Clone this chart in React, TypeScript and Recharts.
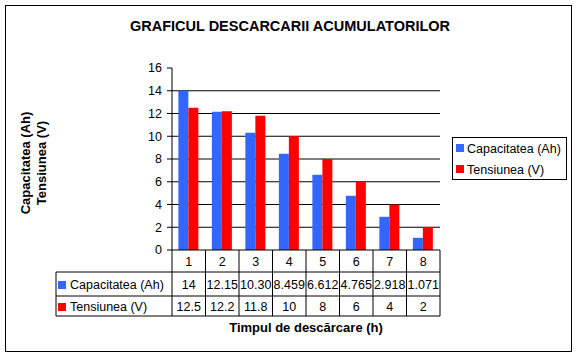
import { BarChart, Bar, XAxis, YAxis, CartesianGrid } from 'recharts';

const categories = ['1', '2', '3', '4', '5', '6', '7', '8'];
const capacitate = [14, 12.15, 10.3, 8.459, 6.612, 4.765, 2.918, 1.071];
const capacitateLabels = ['14', '12.15', '10.30', '8.459', '6.612', '4.765', '2.918', '1.071'];
const tensiune = [12.5, 12.2, 11.8, 10, 8, 6, 4, 2];
const tensiuneLabels = ['12.5', '12.2', '11.8', '10', '8', '6', '4', '2'];
const yTicks = [0, 2, 4, 6, 8, 10, 12, 14, 16];
const gridValues = [2, 4, 6, 8, 10, 12, 14];

const seriesNames = ['Capacitatea (Ah)', 'Tensiunea (V)'];
const seriesColors = ['#3366FF', '#FF0000'];

const FONT = '"Liberation Sans", Arial, sans-serif';
const W = 578;
const H = 357;
// zona de desenare
const PLOT_LEFT = 172;
const PLOT_RIGHT = 440;
const PLOT_TOP = 68;
const PLOT_BOTTOM = 250;
const Y_AXIS_W = 30;
const TABLE_H = 66;
const COL_W = (PLOT_RIGHT - PLOT_LEFT) / categories.length;
const TABLE_LEFT = 56;

const data = categories.map((c, i) => ({ cat: c, cap: capacitate[i], ten: tensiune[i] }));

// tabelul de date sub axa X, cate o coloana pe categorie
const TableTick = ({ x, y, payload }: any) => {
  const i = payload.index;
  const half = COL_W / 2;
  const rowLabels = [capacitateLabels, tensiuneLabels];
  return (
    <g fontFamily={FONT} fontSize={12.5} fill="#000">
      <line x1={x + half} y1={y} x2={x + half} y2={y + TABLE_H} stroke="#000" />
      {i === 0 && (
        <g>
          <line x1={x - half} y1={y} x2={x - half} y2={y + TABLE_H} stroke="#000" />
          <line x1={TABLE_LEFT} y1={y + 22} x2={TABLE_LEFT} y2={y + TABLE_H} stroke="#000" />
          {[22, 46, TABLE_H].map((dy) => (
            <line key={dy} x1={TABLE_LEFT} y1={y + dy} x2={x - half + COL_W * categories.length} y2={y + dy} stroke="#000" />
          ))}
          {seriesNames.map((name, k) => (
            <g key={name}>
              <rect x={58} y={y + 31 + k * 22} width={8} height={8} fill={seriesColors[k]} />
              <text x={70} y={y + 39 + k * 22}>{name}</text>
            </g>
          ))}
        </g>
      )}
      <text x={x} y={y + 16} textAnchor="middle">{categories[i]}</text>
      {rowLabels.map((row, k) => (
        <text key={k} x={x} y={y + 39 + k * 22} textAnchor="middle">{row[i]}</text>
      ))}
    </g>
  );
};

const YTitle = () => (
  <g fontFamily={FONT} fontSize={13} fontWeight="bold" fill="#000">
    <text transform="translate(30,163) rotate(-90)" textAnchor="middle">{seriesNames[0]}</text>
    <text transform="translate(45.5,163) rotate(-90)" textAnchor="middle">{seriesNames[1]}</text>
  </g>
);

const XTitle = ({ viewBox }: any) => (
  <text
    x={viewBox.x + viewBox.width / 2}
    y={viewBox.y + viewBox.height + 16}
    textAnchor="middle"
    fontFamily={FONT}
    fontSize={13}
    fontWeight="bold"
    fill="#000"
  >
    Timpul de descărcare (h)
  </text>
);

export default function App() {
  return (
    <div style={{ position: 'fixed', left: 0, top: 0, width: W, height: H, background: '#fff' }}>
      <BarChart
        width={W}
        height={H}
        data={data}
        margin={{
          top: PLOT_TOP,
          right: W - PLOT_RIGHT,
          bottom: H - PLOT_BOTTOM - TABLE_H,
          left: PLOT_LEFT - Y_AXIS_W,
        }}
        barCategoryGap="19%"
        barGap={0}
      >
        <CartesianGrid horizontal vertical={false} horizontalValues={gridValues} stroke="#000" />
        <XAxis
          dataKey="cat"
          interval={0}
          height={TABLE_H}
          tickLine={false}
          tickSize={0}
          tickMargin={0}
          axisLine={{ stroke: '#000' }}
          tick={<TableTick />}
          label={<XTitle />}
        />
        <YAxis
          width={Y_AXIS_W}
          domain={[0, 16]}
          ticks={yTicks}
          interval={0}
          tickSize={5}
          tickMargin={5}
          axisLine={{ stroke: '#000' }}
          tickLine={{ stroke: '#000' }}
          tick={{ fontFamily: FONT, fontSize: 12.5, fill: '#000' }}
          label={<YTitle />}
        />
        <Bar dataKey="cap" name={seriesNames[0]} fill={seriesColors[0]} isAnimationActive={false} />
        <Bar dataKey="ten" name={seriesNames[1]} fill={seriesColors[1]} isAnimationActive={false} />
      </BarChart>
      <svg width={W} height={H} style={{ position: 'absolute', left: 0, top: 0, pointerEvents: 'none' }}>
        <rect x={5.5} y={5.5} width={566} height={346} fill="none" stroke="#000" />
        <text x={290} y={31} textAnchor="middle" fontFamily={FONT} fontSize={14.5} fontWeight="bold" fill="#000">
          GRAFICUL DESCARCARII ACUMULATORILOR
        </text>
        <rect x={452.5} y={137.5} width={114} height={42} fill="#fff" stroke="#000" />
        {seriesNames.map((name, k) => (
          <g key={name}>
            <rect x={456} y={144 + k * 21} width={8} height={8} fill={seriesColors[k]} />
            <text x={467} y={152.5 + k * 21} fontFamily={FONT} fontSize={12.5} fill="#000">{name}</text>
          </g>
        ))}
      </svg>
    </div>
  );
}
